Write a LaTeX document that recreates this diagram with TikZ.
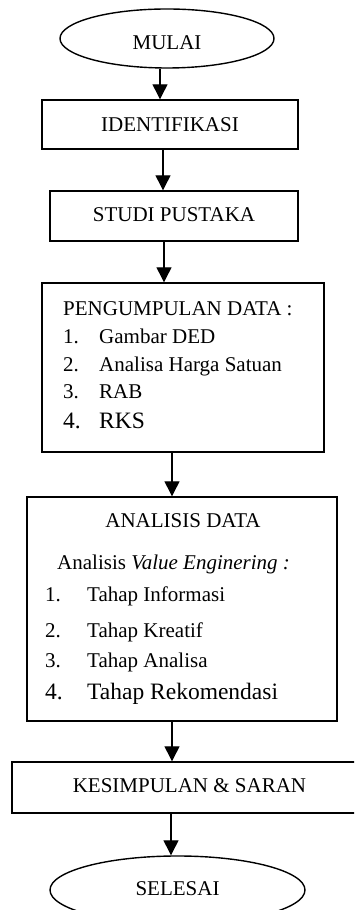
\documentclass[tikz,border=0pt]{standalone}
\usepackage{fontspec}
\setmainfont{Liberation Serif}
\usetikzlibrary{arrows.meta,shapes.geometric}
\begin{document}
\begin{tikzpicture}[x=1pt,y=1pt,
  boxstyle/.style={draw, line width=1.4pt, rectangle, inner sep=0pt},
  ovalstyle/.style={draw, line width=1.4pt, ellipse, inner sep=0pt},
  arr/.style={line width=1.3pt, -{Triangle[width=15pt,length=15pt]}},
  txt/.style={inner sep=0pt, font=\fontsize{21}{25}\selectfont},
  bigtxt/.style={inner sep=0pt, font=\fontsize{23.5}{28}\selectfont}]
\useasboundingbox (0,0) rectangle (354,910);
\clip (0,0) rectangle (354,910);
\fill[white] (0,0) rectangle (354,910);
% shapes
\node[ovalstyle, minimum width=214pt, minimum height=59pt] (mulai) at (167,871.5) {};
\node[boxstyle, minimum width=256pt, minimum height=49pt] (ident) at (170,785.5) {};
\node[boxstyle, minimum width=248pt, minimum height=50pt] (studi) at (174,694) {};
\node[boxstyle, minimum width=282pt, minimum height=169pt] (peng) at (183,542.5) {};
\node[boxstyle, minimum width=310pt, minimum height=224pt] (anal) at (182,301) {};
\node[boxstyle, minimum width=350pt, minimum height=51pt] (kes) at (187,122.5) {};
\node[ovalstyle, minimum width=255pt, minimum height=68pt] (selesai) at (177.5,20) {};
% texts
\node[txt, anchor=base] (tmulai) at (167,860.7) {MULAI};
\node[txt, anchor=base] (tident) at (170,778.3) {IDENTIFIKASI};
\node[txt, anchor=base] (tstudi) at (174,688.3) {STUDI PUSTAKA};
\node[txt, anchor=base west] (tpeng) at (63,594) {PENGUMPULAN DATA :};
\node[txt, anchor=base west] (pn1) at (63,566) {1.};
\node[txt, anchor=base west] (pt1) at (99,566) {Gambar DED};
\node[txt, anchor=base west] (pn2) at (63,538.3) {2.};
\node[txt, anchor=base west] (pt2) at (99,538.3) {Analisa Harga Satuan};
\node[txt, anchor=base west] (pn3) at (63,511) {3.};
\node[txt, anchor=base west] (pt3) at (99,511) {RAB};
\node[bigtxt, anchor=base west] (pn4) at (63,481) {4.};
\node[bigtxt, anchor=base west] (pt4) at (99,481) {RKS};
\node[txt, anchor=base] (tanal) at (183,382) {ANALISIS DATA};
\node[txt, anchor=base west] (tve) at (57,340) {Analisis \textit{Value Enginering :}};
\node[txt, anchor=base west] (an1) at (45,308) {1.};
\node[txt, anchor=base west] (at1) at (87,308) {Tahap Informasi};
\node[txt, anchor=base west] (an2) at (45,272) {2.};
\node[txt, anchor=base west] (at2) at (87,272) {Tahap Kreatif};
\node[txt, anchor=base west] (an3) at (45,242) {3.};
\node[txt, anchor=base west] (at3) at (87,242) {Tahap Analisa};
\node[bigtxt, anchor=base west] (an4) at (45,210) {4.};
\node[bigtxt, anchor=base west] (at4) at (87,210) {Tahap Rekomendasi};
\node[txt, anchor=base] (tkes) at (189.5,117) {KESIMPULAN \& SARAN};
\node[txt, anchor=base] (tsel) at (177.5,14) {SELESAI};
% connectors
\draw[arr] (mulai.south -| 160,0) -- (ident.north -| 160,0);
\draw[arr] (ident.south -| 163,0) -- (studi.north -| 163,0);
\draw[arr] (studi.south -| 164,0) -- (peng.north -| 164,0);
\draw[arr] (peng.south -| 172,0) -- (anal.north -| 172,0);
\draw[arr] (anal.south -| 172,0) -- (kes.north -| 172,0);
\draw[arr] (kes.south -| 171,0) -- (selesai.north -| 171,0);
\end{tikzpicture}
\end{document}
